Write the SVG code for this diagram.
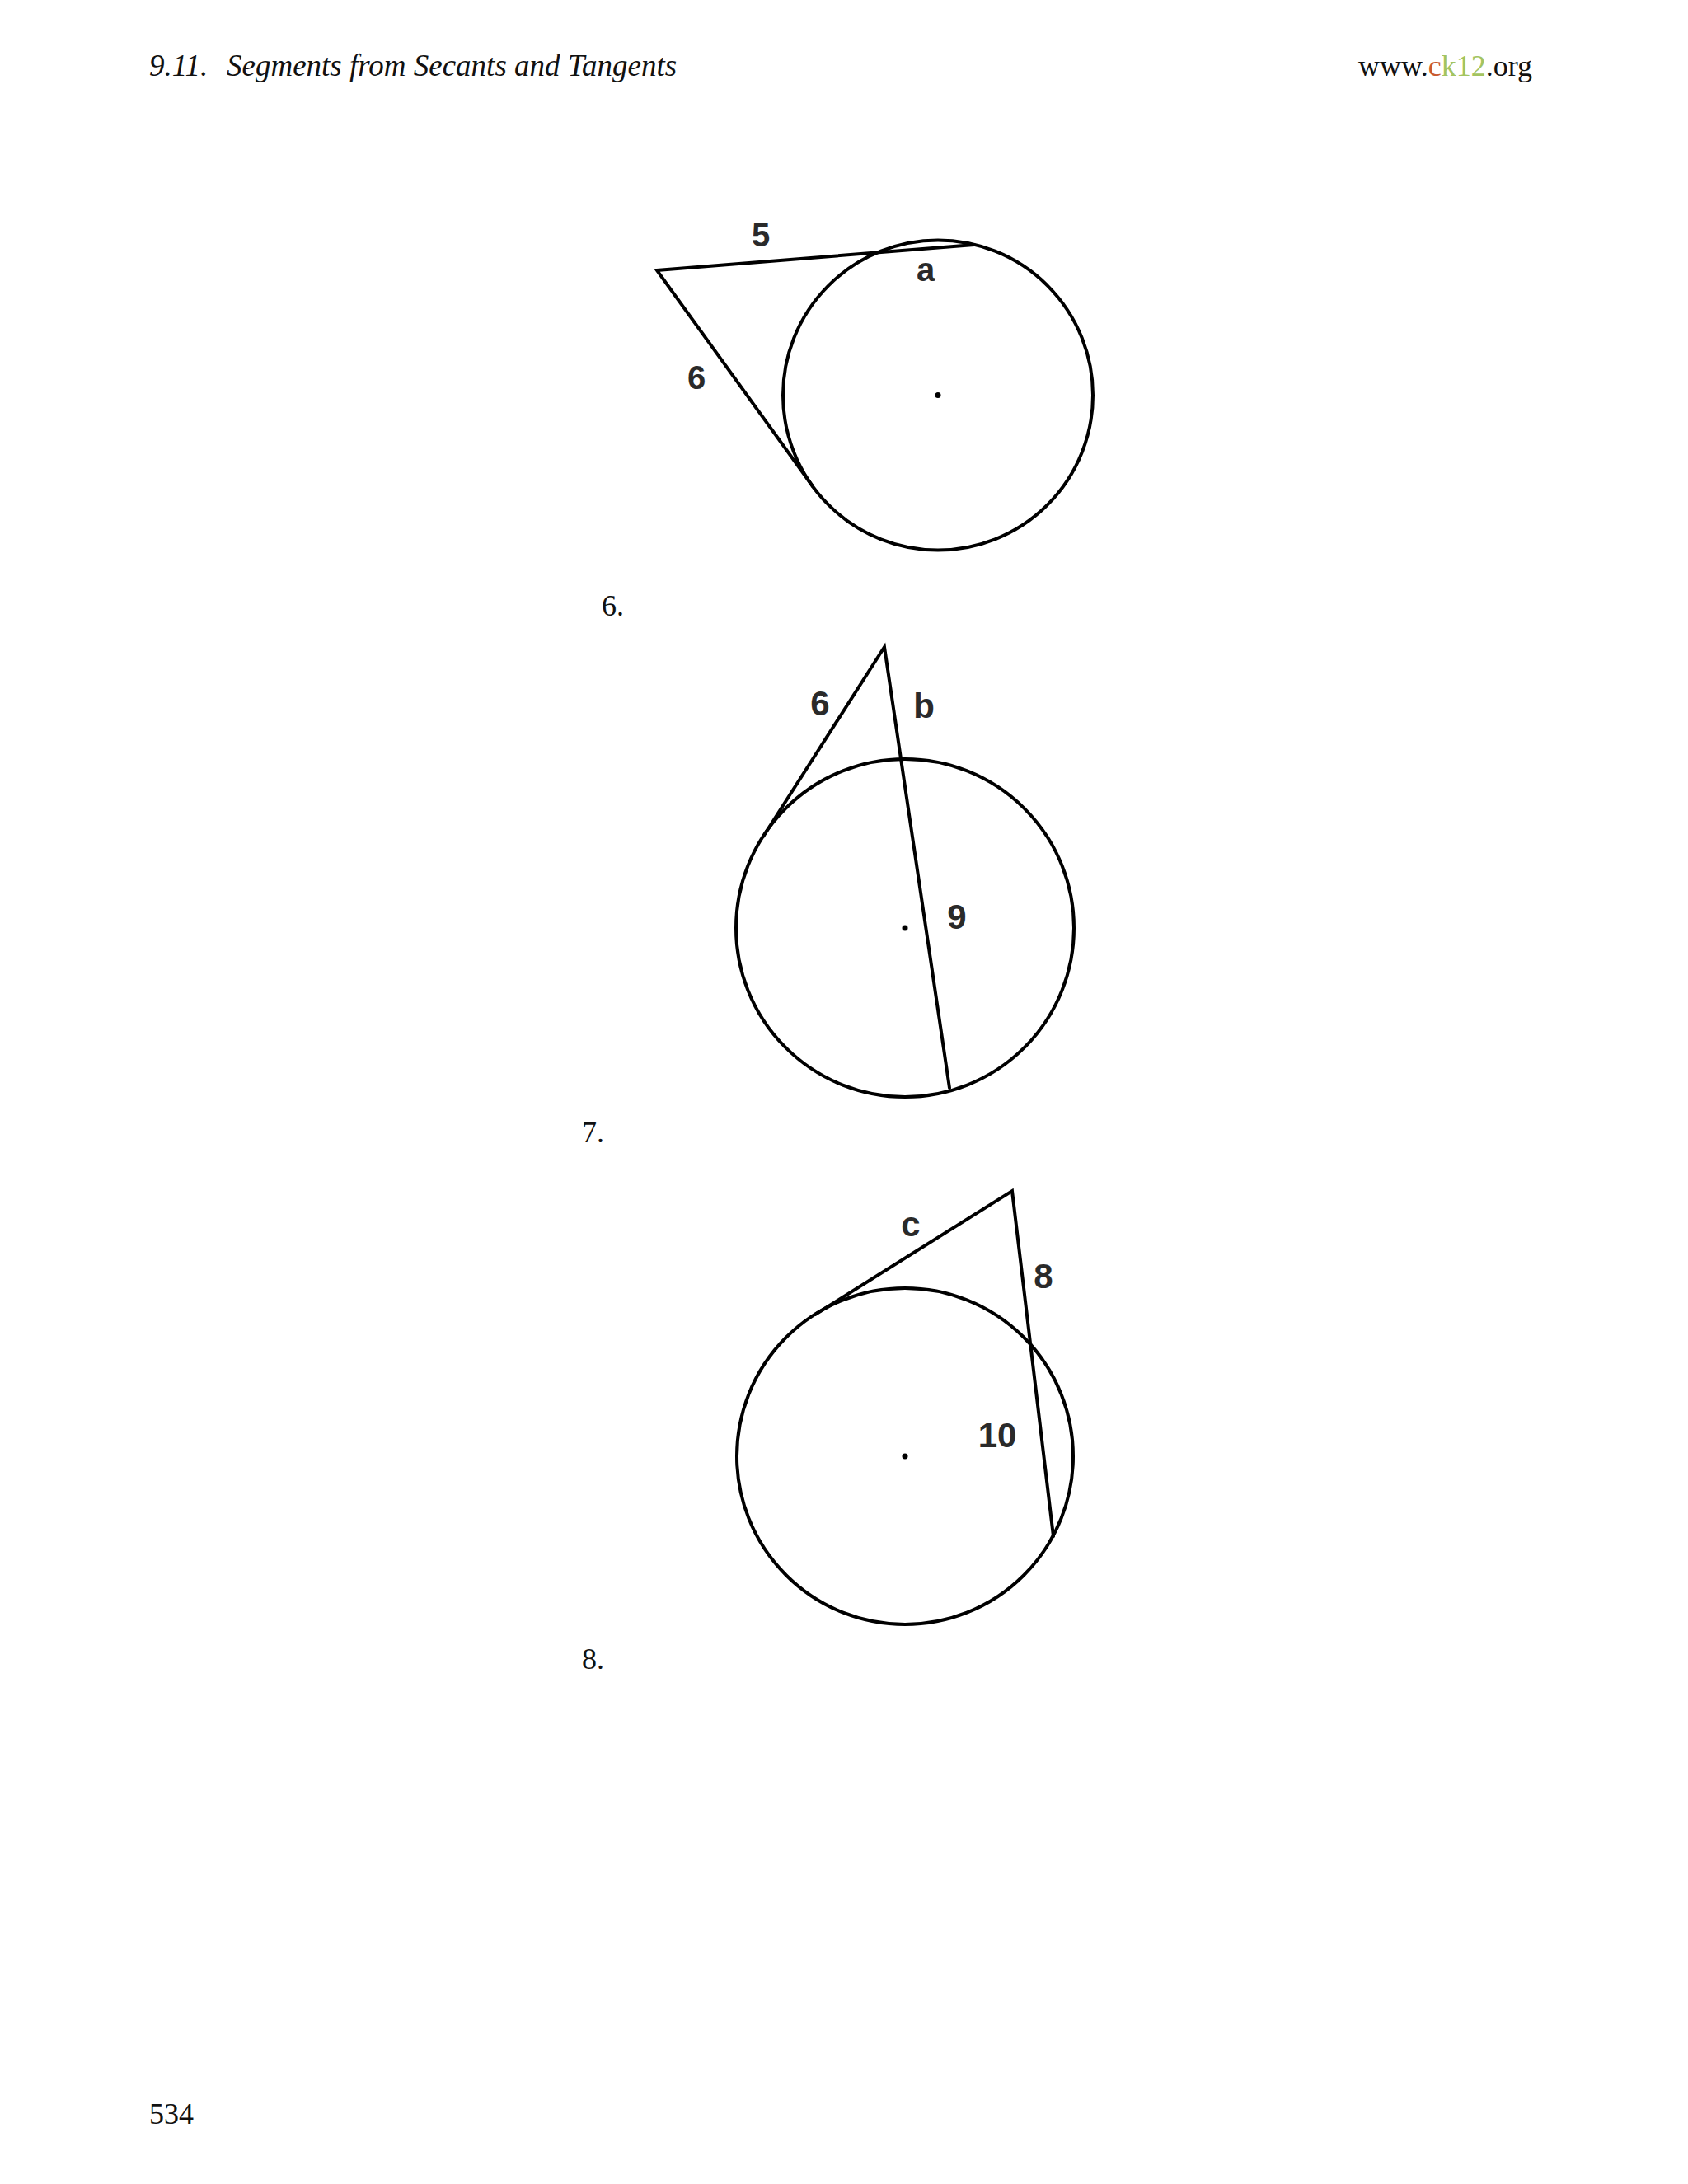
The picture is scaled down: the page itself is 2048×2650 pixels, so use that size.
<svg xmlns="http://www.w3.org/2000/svg" width="2048" height="2650" viewBox="0 0 2048 2650">
<style>
.pg{font-family:"Liberation Serif","Times New Roman",serif;font-size:36px;fill:#111}
.it{font-style:italic}
.lbl{font-family:"Liberation Sans",Arial,sans-serif;font-weight:bold;fill:#2a2a2a;text-anchor:middle}
.s{fill:none;stroke:#000;stroke-width:4;stroke-linejoin:miter;stroke-linecap:round}
.dot{fill:#000}
</style>
<rect width="2048" height="2650" fill="#fff"/>
<g id="header">
<text class="pg it" x="181" y="92" style="font-size:37px">9.11.<tspan x="275">Segments from Secants and Tangents</tspan></text>
<text class="pg" x="1859" y="92" text-anchor="end">www.<tspan fill="#c95a2f">c</tspan><tspan fill="#a3c460">k12</tspan>.org</text>
</g>
<g id="fig6">
<circle class="s" cx="1138" cy="479.5" r="188"/>
<circle class="dot" cx="1138" cy="479.5" r="3.5"/>
<text class="lbl" x="923" y="299" font-size="40">5</text>
<text class="lbl" x="1123" y="341" font-size="40">a</text>
<text class="lbl" x="845" y="472" font-size="40">6</text>
<text class="pg" x="730" y="747">6.</text>
</g>
<g id="fig7">
<circle class="s" cx="1098" cy="1126" r="205"/>
<circle class="dot" cx="1098" cy="1126" r="3.5"/>
<text class="lbl" x="995" y="868" font-size="42">6</text>
<text class="lbl" x="1121" y="871" font-size="42">b</text>
<text class="lbl" x="1161" y="1127" font-size="42">9</text>
<text class="pg" x="706" y="1386">7.</text>
</g>
<g id="fig8">
<circle class="s" cx="1098" cy="1767" r="204"/>
<circle class="dot" cx="1098" cy="1767" r="3.5"/>
<text class="lbl" x="1105" y="1500" font-size="42">c</text>
<text class="lbl" x="1266" y="1563" font-size="42">8</text>
<text class="lbl" x="1210" y="1756" font-size="42">10</text>
<text class="pg" x="706" y="2025">8.</text>
</g>
<g id="connectors">
<polyline class="s" points="1182,297 797,328 986,590"/>
<polyline class="s" points="926,1015 1073,785 1152,1320"/>
<polyline class="s" points="989,1595 1228,1445 1278,1864"/>
</g>
<g id="footer">
<text class="pg" x="181" y="2577">534</text>
</g>
</svg>
